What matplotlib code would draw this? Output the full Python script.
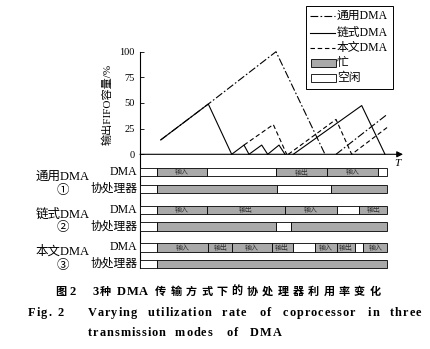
import matplotlib
matplotlib.use("Agg")
import matplotlib.pyplot as plt
from matplotlib.patches import Rectangle
from matplotlib.font_manager import FontProperties, findfont, get_font

plt.rcParams['font.family'] = ['Liberation Serif', 'Noto Sans CJK SC']

# FIFO occupancy curves (time, %)
t_general = [20.7, 68.3, 136, 185]
v_general = [14, 49, 100, 0]
t_general2 = [196, 247.3]
v_general2 = [0, 39]

t_chain = [20.7, 68.3, 91.7, 104, 109, 121.7, 127.7, 139, 145]
v_chain = [14, 49, 0, 9, 0, 9, 0, 9, 0]
t_chain2 = [153.3, 221.7, 245]
v_chain2 = [0, 47.5, 0]

t_ours = [104, 133.3, 146.7]
v_ours = [9, 29, 0]
t_ours2 = [148.3, 196, 211.7, 248.3]
v_ours2 = [0, 34, 0, 27]

yticks = [0, 25, 50, 75, 100]

# Gantt rows: (start, end, busy, label)
rows = {
    "gen_dma": [(0, 16.7, 0, ""), (16.7, 67.3, 1, "输入"), (67.3, 136, 0, ""),
                (136, 186.7, 1, "输出"), (186.7, 238.3, 1, "输入"), (238.3, 247.3, 0, "")],
    "gen_cop": [(0, 16.7, 0, ""), (16.7, 136.7, 1, ""), (136.7, 191, 0, ""), (191, 247.3, 1, "")],
    "chn_dma": [(0, 16.7, 0, ""), (16.7, 67.3, 1, "输入"), (67.3, 145, 1, "输出"),
                (145, 196.7, 1, "输入"), (196.7, 219.3, 0, ""), (219.3, 247.3, 1, "输出")],
    "chn_cop": [(0, 16.7, 0, ""), (16.7, 136, 1, ""), (136, 150.7, 0, ""), (150.7, 247.3, 1, "")],
    "our_dma": [(0, 16.7, 0, ""), (16.7, 68.3, 1, "输入"), (68.3, 92.3, 1, "输出"),
                (92.3, 131.7, 1, "输入"), (131.7, 152.7, 1, "输出"), (152.7, 175, 0, ""),
                (175, 196.7, 1, "输入"), (196.7, 215, 1, "输出"), (215, 223.3, 0, ""),
                (223.3, 247.3, 1, "输入")],
    "our_cop": [(0, 16.7, 0, ""), (16.7, 247.3, 1, "")],
}
row_y = [172, 188.8, 209.8, 226.5, 247.5, 263.8]
row_names = ["gen_dma", "gen_cop", "chn_dma", "chn_cop", "our_dma", "our_cop"]

GRAY = "#a9a9a9"
W, H = 430, 349

fig = plt.figure(figsize=(4.3, 3.49), dpi=100)
ov = fig.add_axes([0, 0, 1, 1])
ov.set_xlim(0, W); ov.set_ylim(H, 0); ov.axis("off")

def box(l, r, top, bot):
    return [l / W, 1 - bot / H, (r - l) / W, (bot - top) / H]

ax1 = fig.add_axes(box(140, 402, 51.7, 154.3))
ax1.set_xlim(0, 262); ax1.set_ylim(0, 100)
for s in ax1.spines.values():
    s.set_visible(False)
ax1.patch.set_alpha(0)
ax1.set_xticks([])
ax1.set_yticks(yticks)
ax1.tick_params(axis="y", direction="in", length=3, width=0.6, pad=4, labelsize=7.5)

lw = 0.8
DD = (0, (7, 2, 1.5, 2))
DS = (0, (4, 2.5))
ax1.plot(t_general, v_general, color="black", lw=lw, ls=DD, clip_on=False)
ax1.plot(t_general2, v_general2, color="black", lw=lw, ls=DD, clip_on=False)
ax1.plot(t_chain, v_chain, color="black", lw=lw, clip_on=False)
ax1.plot(t_chain2, v_chain2, color="black", lw=lw, clip_on=False)
ax1.plot(t_ours, v_ours, color="black", lw=lw, ls=DS, clip_on=False)
ax1.plot(t_ours2, v_ours2, color="black", lw=lw, ls=DS, clip_on=False)
ax1.annotate("", xy=(263, 0), xytext=(0, 0), annotation_clip=False,
             arrowprops=dict(arrowstyle="-|>", color="black", lw=0.8,
                             mutation_scale=9, shrinkA=0, shrinkB=0))

ov.plot([140, 140], [51.7, 268.3], color="black", lw=0.8)
ov.text(107, 104, "输出FIFO容量/%", rotation=90, ha="center", va="center", fontsize=8)
ov.text(397, 163, "T", style="italic", ha="center", va="center", fontsize=8)

# Gantt
ax2 = fig.add_axes(box(140, 402, 160, 272))
ax2.set_xlim(0, 262); ax2.set_ylim(272, 160); ax2.axis("off")
for name, y in zip(row_names, row_y):
    for a, b, busy, lab in rows[name]:
        ax2.barh(y, b - a, left=a, height=8.3, color=GRAY if busy else "white",
                 edgecolor="black", lw=0.6)
        if lab:
            ax2.text((a + b) / 2, y, lab, ha="center", va="center", fontsize=5, color="#333333")

for i, y in enumerate(row_y):
    ov.text(137, y, "DMA" if i % 2 == 0 else "协处理器", ha="right", va="center", fontsize=8.5)

groups = [("通用DMA", "①"), ("链式DMA", "②"), ("本文DMA", "③")]
for k, (g, c) in enumerate(groups):
    ov.text(63, row_y[2 * k] + 4.5, g, ha="center", va="center", fontsize=9)
    ov.text(63, row_y[2 * k + 1] + 2, c, ha="center", va="center", fontsize=9)

# legend
ov.add_patch(Rectangle((306, 5.5), 87, 83, fill=False, ec="black", lw=0.7))
leg_y = [16, 32.5, 48.3, 63.3, 78.3]
ov.plot([310, 335], [leg_y[0]] * 2, color="black", lw=lw, ls=DD)
ov.plot([310, 335], [leg_y[1]] * 2, color="black", lw=lw)
ov.plot([310, 335], [leg_y[2]] * 2, color="black", lw=lw, ls=DS)
ov.add_patch(Rectangle((310.5, leg_y[3] - 4), 25, 8, fc=GRAY, ec="black", lw=0.6))
ov.add_patch(Rectangle((310.5, leg_y[4] - 4), 25, 8, fc="white", ec="black", lw=0.6))
for y, lab in zip(leg_y, ["通用DMA", "链式DMA", "本文DMA", "忙", "空闲"]):
    ov.text(337, y, lab, ha="left", va="center", fontsize=8.5)

# captions with letter tracking (advance widths read from the font)
def spaced(x, y, s, track, family, size):
    f = get_font(findfont(FontProperties(family=family, weight="bold")))
    f.set_size(size, 100)
    for ch in s:
        adv = f.load_char(ord(ch)).linearHoriAdvance / 65536
        ov.text(x + adv / 2, y, ch, ha="center", va="center", family=family,
                fontsize=size, fontweight="bold")
        x += adv + track

CJK = "Noto Sans CJK SC"
SER = "Liberation Serif"
spaced(55, 291.7, "图", 0, CJK, 8)
spaced(69.5, 291.7, "2", 0, SER, 9)
spaced(92.5, 291.7, "3", 0, SER, 9)
spaced(100, 291.7, "种", 0, CJK, 8)
spaced(117, 291.7, "DMA", 0.6, SER, 9)
spaced(155, 291.7, "传输方式下的协处理器利用率变化", 4.2, CJK, 8)

spaced(28, 313, "Fig.", 1.0, SER, 8.8)
spaced(58, 313, "2", 0, SER, 8.8)
for x, wd in zip([88, 148, 222, 260, 283, 368, 390],
                 ["Varying", "utilization", "rate", "of", "coprocessor", "in", "three"]):
    spaced(x, 313, wd, 1.0, SER, 8.8)
for x, wd in zip([88, 175, 227, 250], ["transmission", "modes", "of", "DMA"]):
    spaced(x, 333, wd, 1.0, SER, 8.8)

fig.savefig("out.png", dpi=100)
